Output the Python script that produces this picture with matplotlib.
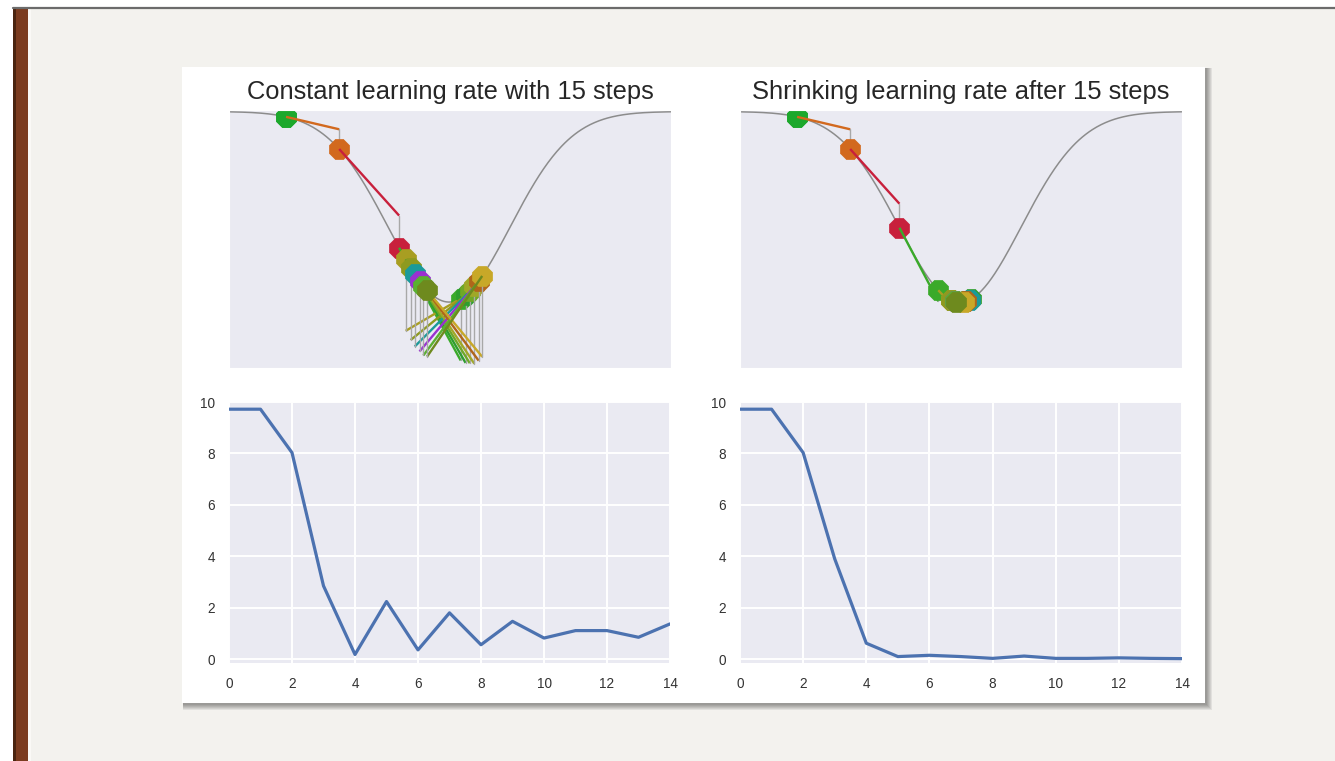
import numpy as np
import matplotlib
matplotlib.use("Agg")
import matplotlib.pyplot as plt
from matplotlib.patches import Rectangle
import seaborn as sns

# ---- data -------------------------------------------------------------
steps = list(range(15))
loss_constant = [9.72, 9.72, 8.03, 2.85, 0.18, 2.24, 0.36, 1.80, 0.56, 1.47,
                 0.82, 1.11, 1.11, 0.85, 1.37]
loss_shrinking = [9.72, 9.72, 8.03, 3.90, 0.62, 0.10, 0.15, 0.10, 0.03, 0.12,
                  0.03, 0.03, 0.05, 0.03, 0.02]
# loss at the point reached after the last update (not in the loss curve)
final_constant = 0.63
final_shrinking = 0.02
# which side of the valley each visited point lies on (-1 left, +1 right)
side_constant = [-1, -1, -1, -1, 1, -1, 1, -1, 1, -1, 1, -1, 1, -1, 1, -1]
side_shrinking = [-1, -1, -1, -1, -1, -1, 1, -1, 1, 1, -1, -1, 1, -1, 1, -1]
step_colors = ["#1ca82c", "#1ca82c", "#d2691e", "#c8203c", "#3aaa2a",
               "#a89e22", "#2e9e2e", "#8e9a20", "#70a828", "#1a9a9a",
               "#a0a828", "#9a30d0", "#b0661a", "#5ab030", "#c8a828",
               "#6e8a1e"]
titles = ["Constant learning rate with 15 steps",
          "Shrinking learning rate after 15 steps"]
x_ticks = [0, 2, 4, 6, 8, 10, 12, 14]
y_ticks = [0, 2, 4, 6, 8, 10]

# ---- style ------------------------------------------------------------
sns.set_style("darkgrid")
plt.rcParams["font.family"] = ["Liberation Sans", "DejaVu Sans"]

W, H = 1335, 761
fig = plt.figure(figsize=(W / 100, H / 100), dpi=100)
fig.patch.set_facecolor("white")


def box(x0, y0, x1, y1):
    return [x0 / W, 1 - y1 / H, (x1 - x0) / W, (y1 - y0) / H]


# slide backdrop, drawn in pixel units
bg = fig.add_axes([0, 0, 1, 1], zorder=-10)
bg.set_xlim(0, W)
bg.set_ylim(H, 0)
bg.axis("off")
bg.add_patch(Rectangle((13, 7), W - 13, H - 7, color="#f3f2ee", lw=0))
bg.add_patch(Rectangle((13, 7), 15, H - 7, color="#7b3b1f", lw=0))
bg.add_patch(Rectangle((13, 7), 2.5, H - 7, color="#4a2410", lw=0))
bg.add_patch(Rectangle((28, 7), 3, H - 7, color="#faf9f6", lw=0))
bg.plot([13, W], [7.5, 7.5], color="#6b6b6b", lw=1.6)
# card with soft shadow
for k in range(6, 0, -1):
    bg.add_patch(Rectangle((182 + 1, 67 + 1), 1023 + k, 636 + k,
                           color="#000000", alpha=0.07, lw=0))
bg.add_patch(Rectangle((182, 67), 1023, 636, color="white", lw=0))


# ---- valley curve -----------------------------------------------------
def surface(x):
    return 10 * (1 - np.exp(-x ** 2 / 2))


def slope(x):
    return 10 * x * np.exp(-x ** 2 / 2)


def position(loss, side):
    return side * np.sqrt(-2 * np.log(1 - loss / 10))


xs = np.linspace(-3.61, 3.64, 400)

top_boxes = [box(229, 110, 671, 368), box(740, 110, 1182, 368)]
bot_boxes = [box(229, 402, 670, 663), box(740, 402, 1182, 663)]
series = [(loss_constant, final_constant, side_constant),
          (loss_shrinking, final_shrinking, side_shrinking)]

for i in range(2):
    losses, final, sides = series[i]
    visited = losses + [final]
    px = np.array([position(l, s) for l, s in zip(visited, sides)])
    py = surface(px)

    ax = fig.add_axes(top_boxes[i])
    ax.set_facecolor("#eaeaf2")
    ax.grid(False)
    ax.set_xticks([])
    ax.set_yticks([])
    ax.plot(xs, surface(xs), color="#8c8c8c", lw=1.1)
    for k in range(len(px)):
        if k > 0:
            # tangent step from the previous point, then drop onto the curve
            x0, y0 = px[k - 1], py[k - 1]
            y_end = y0 + slope(x0) * (px[k] - x0)
            ax.plot([x0, px[k]], [y0, y_end], color=step_colors[k], lw=1.7,
                    solid_capstyle="butt")
            ax.plot([px[k], px[k]], [y_end, py[k]], color="#a8a8a8", lw=1.0)
        ax.plot(px[k], py[k], marker="8", ms=15, color=step_colors[k],
                mec=step_colors[k], mew=0.5, linestyle="none")
    ax.set_xlim(-3.61, 3.64)
    ax.set_ylim(-3.46, 10.08)
    ax.set_title(titles[i], fontsize=18.4, color="#262626", pad=8)

    axb = fig.add_axes(bot_boxes[i])
    axb.set_facecolor("#eaeaf2")
    axb.plot(steps, losses, color="#4c72b0", lw=2.3)
    axb.set_xlim(0, 14)
    axb.set_ylim(-0.15, 10)
    axb.set_xticks(x_ticks)
    axb.set_yticks(y_ticks)
    axb.grid(True, color="white", lw=1.4)
    axb.tick_params(length=0, pad=10, labelsize=9.8, labelcolor="#333333")
    for s in axb.spines.values():
        s.set_visible(False)

fig.savefig("out.png", dpi=100)
